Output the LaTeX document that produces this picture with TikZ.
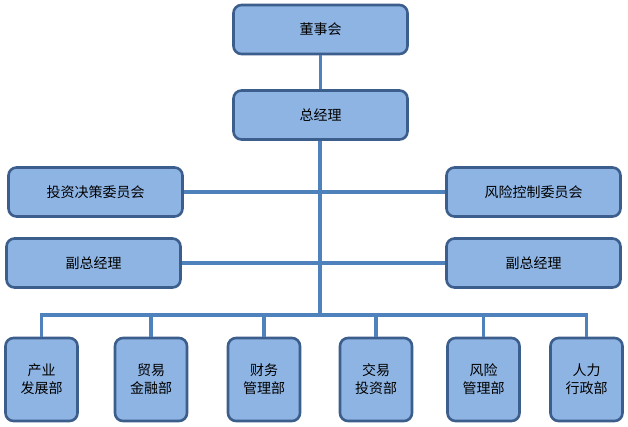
\documentclass[tikz,border=0pt]{standalone}
\usepackage{fontspec}
\newfontfamily\cjk{Noto Sans CJK SC}
\usepackage{tikz}
\usetikzlibrary{positioning,calc}
\definecolor{boxfill}{HTML}{8EB4E3}
\definecolor{boxdraw}{HTML}{3B5E8C}
\definecolor{linkcol}{HTML}{4F81BD}
\tikzstyle{box} = [draw=boxdraw, fill=boxfill, line width=2.6pt, rounded corners=8pt,
  minimum width=174pt, minimum height=49pt, font=\cjk\fontsize{14}{16}\selectfont]
\tikzstyle{dept} = [box, minimum width=72pt, minimum height=83pt, align=center,
  font=\cjk\fontsize{14}{18}\selectfont]
\tikzstyle{line} = [draw=linkcol, line width=3.2pt]
\begin{document}
\begin{tikzpicture}[x=1pt,y=-1pt]
      \useasboundingbox (0,0) rectangle (628,426);
      % top chain
      \node [box] (board) at (320.5,29.5) {董事会};
      \node [box] (gm) at (320.5,115) {总经理};
      % committees and vice managers
      \node [box] (invest) at (95.5,192) {投资决策委员会};
      \node [box] (risk) at (533.5,192) {风险控制委员会};
      \node [box] (vpl) at (93.5,263) {副总经理};
      \node [box] (vpr) at (533.5,263) {副总经理};
      % departments
      \node [dept] (d1) at (41.5,379.5) {产业\\发展部};
      \node [dept] (d2) at (151,379.5) {贸易\\金融部};
      \node [dept] (d3) at (264,379.5) {财务\\管理部};
      \node [dept] (d4) at (376,379.5) {交易\\投资部};
      \node [dept] (d5) at (483.5,379.5) {风险\\管理部};
      \node [dept] (d6) at (586.5,379.5) {人力\\行政部};
      \coordinate (bus) at (320,315);
      % connectors
      \path [line] (board) -- (gm);
      \path [line] (gm.south -| bus) -- (bus);
      \path [line] (invest.east) -- (risk.west);
      \path [line] (vpl.east) -- (vpr.west);
      \path [line] (d1.north) |- (bus) -| (d6.north);
      \path [line] (d2.north) -- (d2.north |- bus);
      \path [line] (d3.north) -- (d3.north |- bus);
      \path [line] (d4.north) -- (d4.north |- bus);
      \path [line] (d5.north) -- (d5.north |- bus);
    \end{tikzpicture}
\end{document}
